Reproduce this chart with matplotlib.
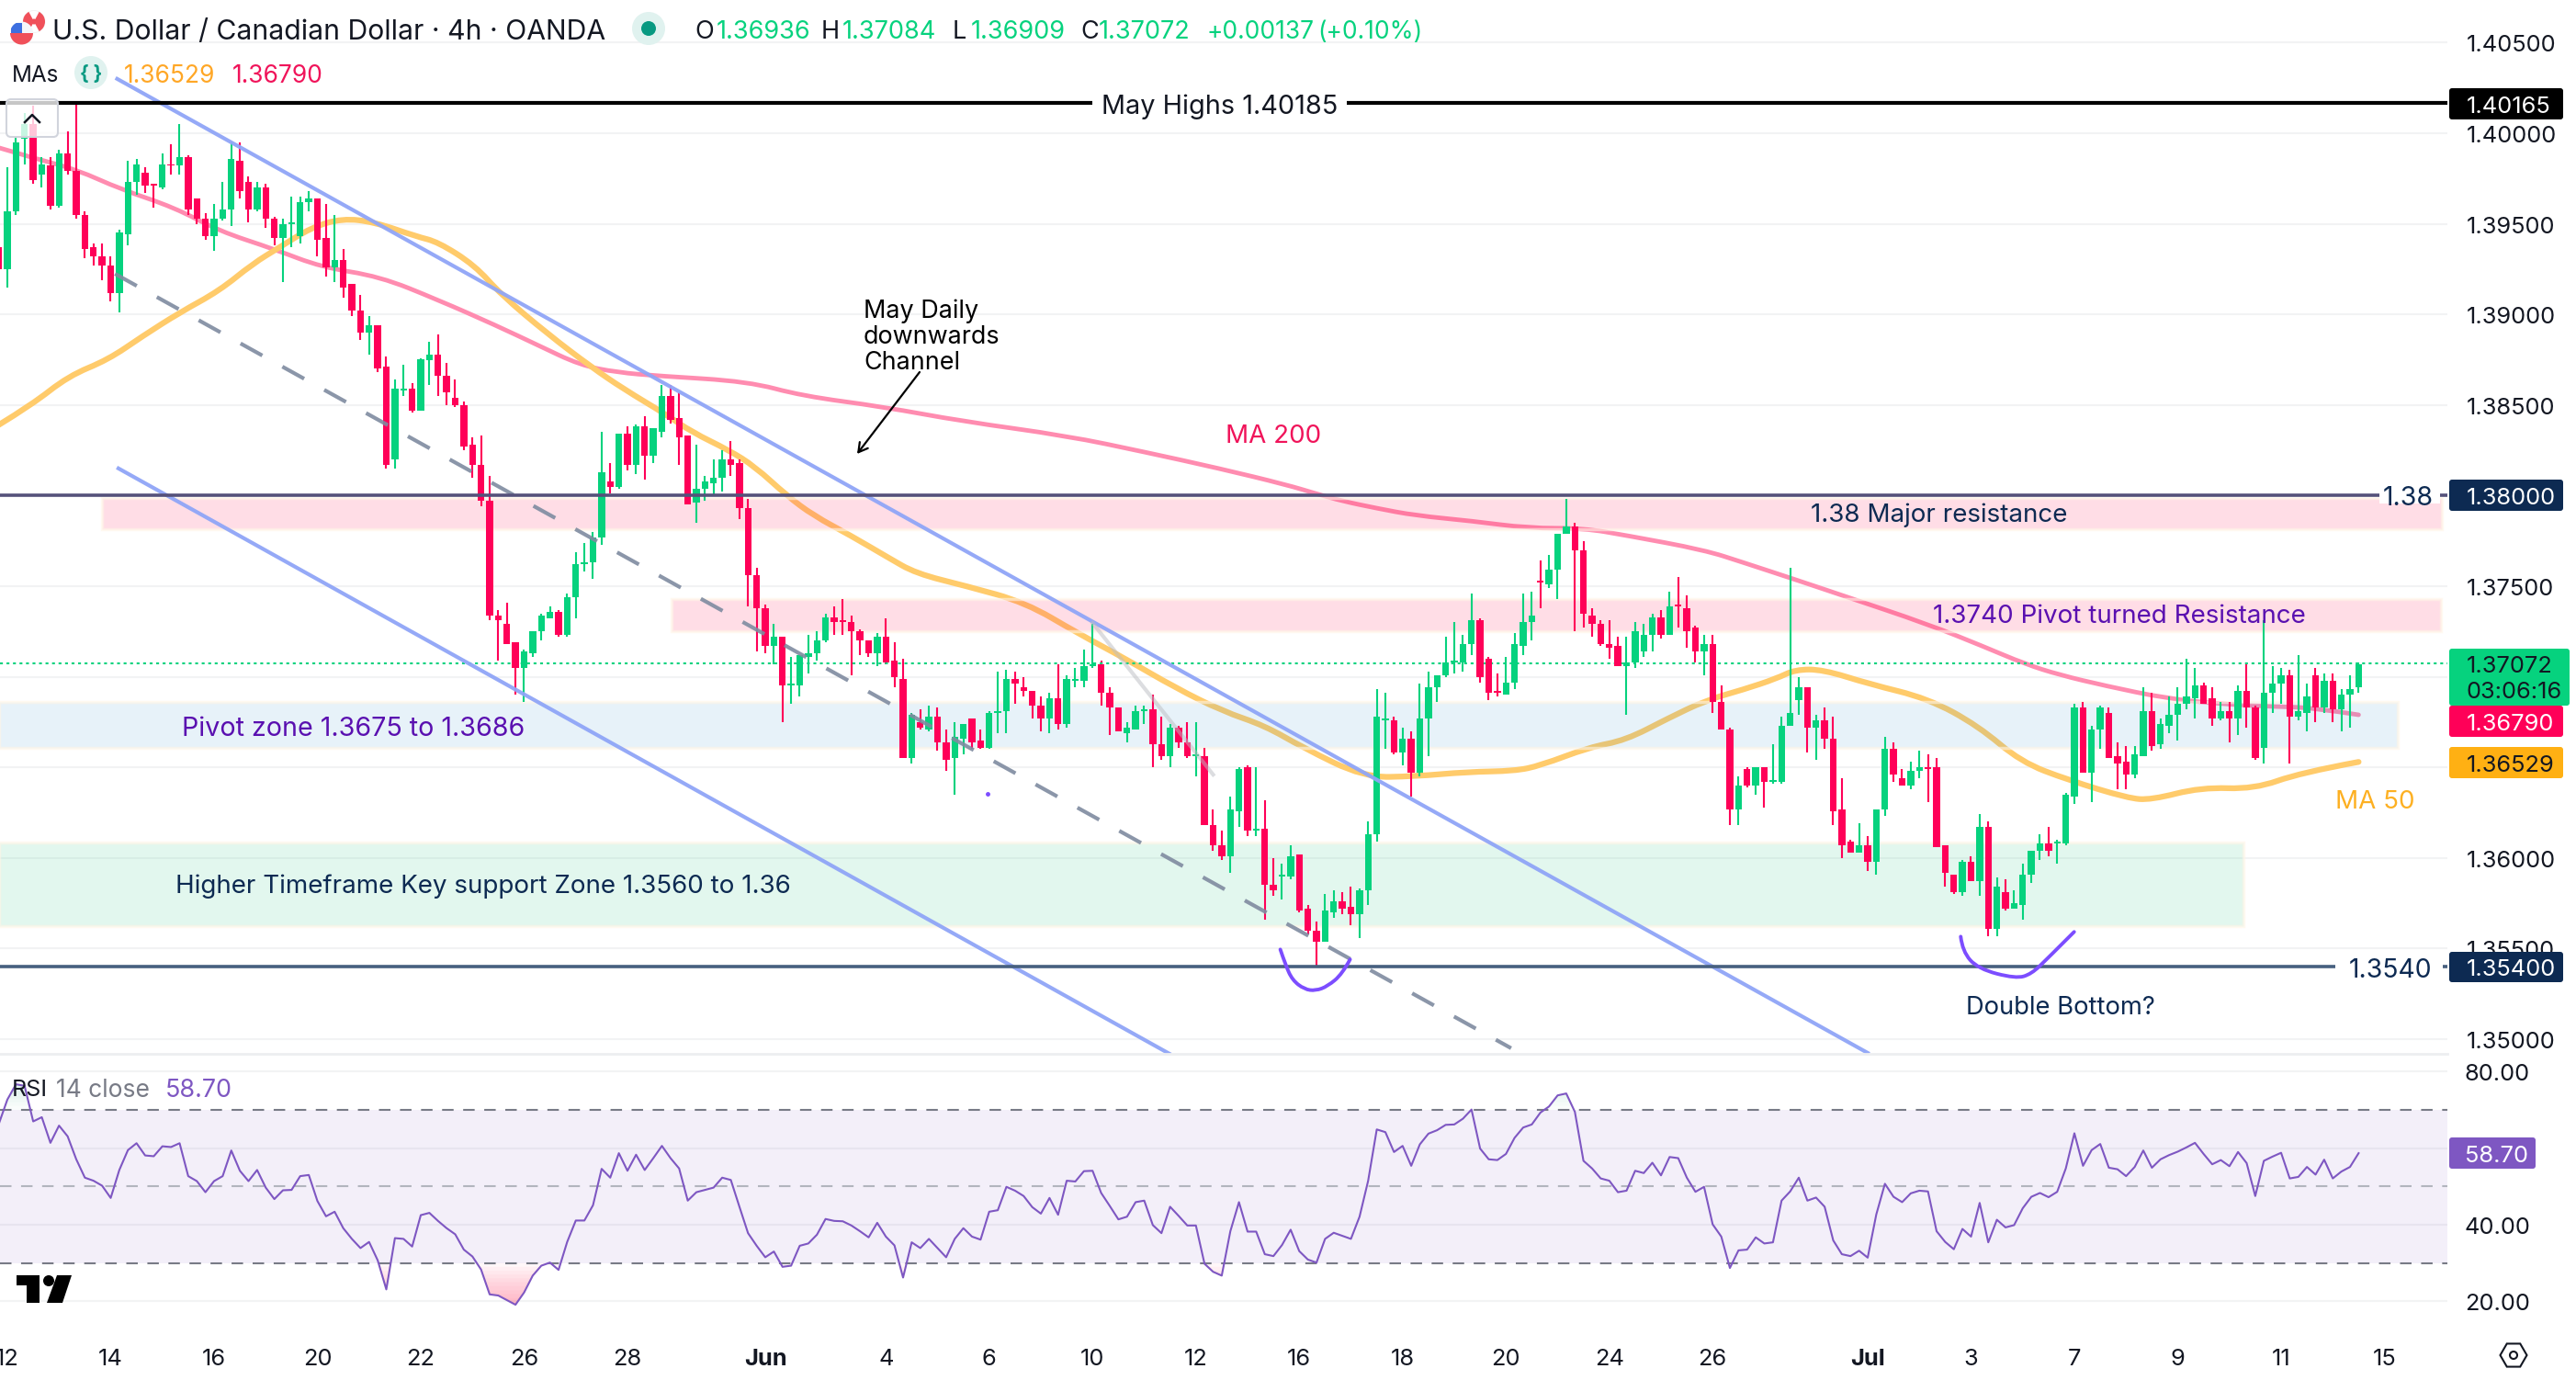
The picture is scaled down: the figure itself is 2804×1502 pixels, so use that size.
import numpy as np
import matplotlib
matplotlib.use("Agg")
import matplotlib.pyplot as plt
from matplotlib.patches import Rectangle, FancyBboxPatch, Circle, Ellipse, Polygon, RegularPolygon, Wedge, PathPatch
from matplotlib.path import Path

plt.rcParams['font.family'] = ['Inter', 'DejaVu Sans']

# candles in pips (1.3000 = 13000), first bar is partly off the left edge
first_bar = -1
opens = [13937,13925,13957,13997,14005,13977,13982,13960,13989,13979,
13955,13937,13932,13927,13912,13944,13973,13978,13972,13970,
13983,13982,13987,13964,13953,13943,13953,13958,13985,13973,
13958,13970,13953,13942,13950,13943,13962,13964,13942,13926,
13930,13917,13902,13890,13894,13871,13820,13858,13859,13847,
13875,13878,13866,13854,13850,13828,13817,13797,13734,13729,
13719,13705,13713,13725,13732,13736,13723,13744,13762,13763,
13777,13808,13805,13834,13817,13838,13822,13835,13855,13843,
13833,13796,13804,13807,13810,13820,13818,13793,13756,13738,
13717,13722,13695,13695,13711,13713,13720,13733,13731,13730,
13725,13720,13713,13722,13709,13699,13655,13675,13671,13678,
13664,13655,13666,13677,13665,13661,13680,13681,13699,13694,
13692,13684,13677,13688,13674,13698,13698,13706,13707,13691,
13683,13669,13671,13681,13682,13663,13656,13672,13664,13656,
13656,13618,13607,13601,13626,13650,13615,13616,13585,13590,
13590,13602,13572,13560,13554,13570,13576,13573,13569,13582,
13613,13676,13676,13658,13666,13647,13677,13694,13701,13708,
13708,13718,13731,13710,13692,13690,13697,13717,13730,13753,
13751,13759,13779,13783,13770,13734,13729,13718,13717,13706,
13708,13714,13723,13733,13723,13740,13738,13727,13714,13718,
13686,13671,13627,13649,13640,13650,13642,13642,13673,13687,
13694,13672,13676,13666,13627,13609,13603,13607,13598,13627,
13660,13644,13640,13648,13650,13650,13607,13591,13581,13598,
13587,13617,13561,13581,13572,13574,13591,13604,13608,13608,
13608,13634,13683,13647,13671,13680,13656,13653,13646,13656,
13681,13663,13673,13679,13685,13688,13695,13688,13677,13681,
13677,13692,13683,13661,13691,13696,13701,13678,13680,13701,
13683,13698,13682,13690,13694]
highs = [13940,13981,13998,14011,14015,13987,13987,13991,14001,14016,
13957,13939,13939,13932,13947,13985,13986,13981,13972,13989,
13994,14005,13988,13964,13956,13961,13973,13995,13995,13976,
13973,13972,13954,13953,13965,13965,13968,13964,13961,13955,
13936,13917,13911,13899,13894,13877,13864,13872,13862,13876,
13885,13889,13873,13864,13852,13832,13833,13811,13737,13741,
13719,13715,13725,13735,13739,13737,13746,13769,13774,13780,
13835,13818,13834,13838,13839,13844,13837,13861,13861,13857,
13833,13828,13811,13820,13825,13830,13820,13798,13760,13740,
13729,13722,13711,13712,13723,13725,13735,13739,13743,13734,
13726,13720,13724,13732,13719,13710,13680,13682,13684,13683,
13671,13675,13674,13677,13671,13681,13703,13704,13703,13700,
13692,13689,13691,13707,13701,13705,13715,13729,13709,13694,
13683,13675,13684,13684,13690,13678,13674,13673,13675,13675,
13661,13627,13615,13634,13650,13651,13650,13632,13600,13597,
13607,13602,13574,13565,13580,13582,13581,13584,13583,13620,
13693,13691,13678,13672,13670,13696,13703,13701,13722,13730,
13723,13746,13732,13711,13702,13711,13724,13746,13747,13764,
13767,13779,13798,13785,13775,13738,13731,13731,13722,13722,
13730,13729,13735,13737,13747,13755,13745,13728,13723,13723,
13695,13672,13645,13650,13650,13650,13663,13678,13760,13700,
13694,13679,13683,13678,13644,13610,13619,13612,13627,13667,
13664,13649,13653,13659,13657,13655,13607,13591,13599,13601,
13624,13620,13589,13588,13582,13597,13604,13613,13617,13610,
13636,13685,13686,13673,13684,13683,13664,13662,13662,13694,
13691,13677,13689,13694,13710,13705,13697,13694,13686,13686,
13695,13708,13684,13731,13706,13705,13704,13712,13696,13705,
13702,13702,13693,13701,13708]
lows = [13921,13915,13955,13983,13972,13970,13958,13959,13977,13953,
13931,13927,13919,13907,13901,13938,13966,13967,13959,13969,
13977,13977,13955,13950,13941,13935,13952,13949,13964,13951,
13957,13948,13938,13918,13937,13939,13957,13932,13921,13918,
13909,13899,13886,13878,13868,13815,13815,13855,13846,13847,
13861,13855,13850,13849,13825,13810,13794,13731,13709,13718,
13690,13686,13711,13720,13732,13722,13722,13732,13758,13754,
13773,13801,13804,13814,13812,13809,13818,13832,13840,13817,
13795,13785,13797,13800,13802,13811,13787,13739,13714,13713,
13707,13675,13685,13689,13702,13709,13719,13723,13723,13701,
13712,13711,13706,13707,13694,13655,13652,13671,13670,13659,
13648,13635,13657,13660,13660,13660,13669,13669,13685,13689,
13677,13670,13669,13671,13672,13694,13694,13705,13684,13668,
13670,13664,13671,13674,13650,13654,13650,13661,13655,13645,
13618,13604,13599,13592,13617,13612,13612,13566,13579,13577,
13588,13570,13558,13540,13554,13567,13569,13563,13556,13574,
13609,13660,13657,13651,13634,13645,13656,13686,13700,13702,
13703,13712,13697,13687,13689,13690,13693,13712,13720,13738,
13749,13743,13779,13725,13727,13722,13717,13710,13706,13679,
13705,13711,13714,13721,13723,13727,13716,13708,13701,13680,
13671,13618,13618,13639,13635,13628,13641,13641,13673,13679,
13658,13654,13660,13618,13600,13603,13603,13593,13591,13623,
13642,13640,13638,13644,13631,13606,13584,13580,13579,13587,
13579,13557,13557,13571,13572,13566,13586,13599,13601,13597,
13607,13630,13647,13631,13660,13655,13638,13638,13644,13656,
13659,13660,13669,13665,13682,13677,13685,13673,13676,13664,
13668,13672,13654,13652,13680,13685,13652,13676,13670,13675,
13680,13675,13670,13672,13691]
closes = [13925,13957,13995,14005,13974,13983,13960,13989,13979,13955,
13936,13932,13927,13912,13945,13973,13983,13971,13971,13983,
13982,13987,13958,13953,13943,13953,13958,13986,13968,13958,
13970,13953,13942,13950,13951,13962,13964,13941,13926,13930,
13915,13902,13890,13894,13870,13817,13859,13859,13847,13875,
13878,13866,13857,13850,13827,13817,13797,13734,13731,13718,
13705,13714,13725,13734,13736,13723,13744,13762,13763,13777,
13813,13805,13834,13817,13838,13822,13837,13855,13842,13832,
13795,13804,13808,13810,13820,13817,13793,13756,13738,13717,
13722,13695,13696,13712,13713,13720,13733,13730,13730,13725,
13720,13713,13722,13708,13700,13655,13679,13672,13678,13664,
13654,13667,13674,13664,13661,13680,13681,13699,13696,13692,
13684,13677,13688,13674,13699,13699,13706,13707,13691,13683,
13670,13672,13681,13682,13663,13656,13672,13664,13656,13657,
13618,13607,13601,13627,13649,13615,13616,13585,13582,13591,
13601,13571,13560,13554,13571,13576,13572,13569,13582,13613,
13678,13677,13658,13666,13647,13677,13694,13701,13708,13709,
13718,13731,13700,13691,13691,13697,13718,13730,13734,13752,
13759,13779,13783,13770,13735,13729,13718,13716,13706,13708,
13725,13723,13733,13723,13739,13739,13725,13714,13718,13686,
13671,13627,13640,13640,13650,13642,13643,13673,13680,13694,
13672,13676,13666,13626,13607,13603,13607,13598,13627,13660,
13646,13640,13648,13650,13649,13606,13592,13581,13598,13587,
13617,13561,13584,13572,13575,13591,13604,13608,13604,13609,
13635,13683,13647,13671,13683,13655,13652,13646,13657,13681,
13662,13674,13679,13685,13689,13695,13685,13677,13681,13677,
13692,13683,13655,13691,13696,13701,13678,13681,13689,13683,
13698,13682,13690,13693,13707]

ma200_bars = [-1,4,8,13.2,19.4,24.6,31,36.5,43.2,50,56.7,61.6,66.5,70.8,75.7,86,92.3,101.7,110.9,123,132.1,140.7,148.5,152,155,159,163.5,170,176.6,183,188,197,201.6,208,213,223,229.3,234.3,238.3,243.6,250.7,257,263.2,267.6,273]
ma200_vals = [13992,13985,13980,13969,13959,13946,13936,13926,13921,13908,13894,13883,13872,13868,13866,13863,13855,13849,13841,13833,13824,13815,13806,13801,13797,13793,13789,13786,13782,13782,13778,13770,13763,13753,13745,13729,13717,13707,13701,13695,13688,13685,13683.5,13683,13679]
ma50_bars = [-1,2.8,7.1,11.7,15.7,20,24.6,28.5,31.6,35.3,38.9,42.6,47.5,50,54.3,57.3,62.8,67.8,71.5,76.4,79.5,83.8,86.8,90.5,93.6,97.9,102.2,105.5,111.4,118.2,124.3,129.8,135.6,141.1,146,150.4,157.5,163.4,169.5,175,178,183.6,187.9,192.8,197.2,201.6,205.4,207.6,210.8,216.2,223,228.8,233.8,239.3,246.2,248.9,254.7,260.9,266.2,273]
ma50_vals = [13839,13850,13866,13875,13888,13901,13913,13928,13937,13948,13953,13951,13943,13940,13927,13911,13889,13871,13859,13845,13835,13825,13816,13800,13789,13778,13766,13757,13750,13741,13724,13710,13694,13681,13673,13661,13644.5,13645,13647.5,13648,13651,13661,13665,13677,13687,13693,13699,13704,13704,13696,13688,13673,13653,13643,13633,13632,13639,13638,13647,13653]

rsi_vals = [66.3,72.7,76.7,76.3,67.0,68.1,61.4,65.9,63.1,57.1,52.3,51.5,50.2,47.0,54.3,59.5,61.3,58.1,57.9,60.5,
60.3,61.3,52.7,51.4,48.5,51.4,52.7,59.4,54.1,51.4,54.3,49.7,46.7,49.0,49.1,52.7,53.0,46.2,42.2,43.4,
39.1,36.3,33.9,35.5,30.7,23.1,36.5,36.3,34.3,42.5,43.1,41.0,39.1,37.5,33.5,31.7,28.3,21.8,21.5,20.3,
19.1,22.3,26.7,29.3,30.1,28.2,35.5,41.1,41.1,45.1,54.6,52.3,58.7,54.1,58.3,54.3,57.4,60.6,57.4,54.7,
46.3,48.5,49.1,49.7,52.3,51.7,44.7,37.8,34.5,31.5,33.0,29.0,29.3,34.5,35.1,37.4,41.5,41.0,40.9,39.8,
38.3,36.7,40.5,36.9,34.6,26.2,35.4,33.9,36.3,33.9,31.5,36.3,39.1,36.9,36.1,43.4,43.8,49.9,48.9,47.5,
44.6,42.9,47.0,42.6,51.5,51.3,54.0,54.1,48.3,44.9,41.4,42.1,45.9,46.3,39.9,37.8,44.7,42.3,39.8,39.8,
29.8,27.7,26.7,38.3,45.9,38.2,38.2,32.3,31.8,34.7,38.7,33.1,30.9,30.1,36.3,37.9,37.1,36.3,42.1,51.5,
64.9,64.2,59.0,60.6,55.4,61.0,63.8,64.7,66.1,66.2,67.7,70.1,59.9,57.1,56.9,58.5,62.7,65.4,66.2,69.3,
70.9,73.8,74.3,69.5,56.7,54.7,52.1,51.5,48.5,48.9,54.1,53.5,56.2,52.9,57.7,57.4,52.3,48.6,49.9,40.1,
36.9,28.7,33.3,33.5,36.7,35.1,35.4,46.3,48.7,52.3,46.3,47.1,44.7,35.9,32.3,31.8,33.2,31.4,42.7,50.7,
47.3,45.9,48.2,48.9,48.7,38.3,35.5,33.6,38.9,36.9,45.7,35.4,41.3,39.3,39.9,44.3,47.3,48.3,47.2,48.6,
54.7,63.9,55.4,59.5,61.1,54.9,54.5,52.7,55.1,59.4,54.9,57.1,58.2,59.1,60.2,61.4,58.5,55.8,56.9,55.3,
59.0,56.1,47.5,56.7,57.8,58.8,52.1,52.5,55.1,53.1,57.0,52.1,53.9,55.1,58.7]

price_ticks = [1.405,1.40,1.395,1.39,1.385,1.38,1.375,1.37,1.365,1.36,1.355,1.35]
# the others sit under the value tags
price_labels = [1.405,1.40,1.395,1.39,1.385,1.375,1.36,1.355,1.35]
rsi_ticks = [80,60,40,20]
rsi_labels = [80,40,20]
time_bars = [0,12,24,36,48,60,72,88,102,114,126,138,150,162,174,186,198,216,228,240,252,264,276]
time_labels = ['12','14','16','20','22','26','28','Jun','4','6','10','12','16','18','20','24','26','Jul','3','7','9','11','15']

# zones (low, high, first bar, last bar)
major_zone = (1.37816, 1.37988, 11, 282.7)
pivot_res_zone = (1.37253, 1.37427, 77.1, 282.6)
pivot_zone = (1.36610, 1.36860, -1, 277.6)
support_zone = (1.35625, 1.36083, -1, 259.6)

may_high = 1.40165
res_level = 1.38
sup_level = 1.354
last_price = 1.37072

# drawn lines as (bar, pips)
channel_top = ([12.75, 216], [14030, 13492.4])
channel_bottom = ([12.9, 134.9], [13815, 13492])
channel_mid = ([12.5, 174.6], [13922.4, 13495])
faint_line = ([126, 140], [13729.7, 13646])
bottom_one = ([147.8,148.4,149.2,150.6,151.9,153.3,155,155.9], [13549.5,13541,13532.6,13527.5,13526.7,13529.2,13536,13544])
bottom_two = ([226.8,227,228.8,233.2,235,236.9,239.97], [13556.6,13548.5,13538.8,13533.4,13535.9,13544.6,13559.2])

GREEN = '#06D27E'
RED = '#FF0058'
NAVY = '#0D2A52'
PURPLE_TXT = '#5A10B0'
RSI_COL = '#7E57C2'
GRID = '#F2F3F4'

W, H = 2804, 1502
BAR_PX = 9.375
PANE_R = 2664
fig = plt.figure(figsize=(W / 100, H / 100), dpi=100, facecolor='white')

def bar_x(px):
    return (px - 8) / BAR_PX

def price_y(price):
    return 145 + (1.40 - price) * 19720

def smooth_path(xs, ys):
    # rounded line through the read points, corners only get softened
    pts = list(zip(xs, ys))
    verts = [pts[0]]
    codes = [Path.MOVETO]
    for k in range(1, len(pts) - 1):
        mid = ((pts[k][0] + pts[k + 1][0]) / 2, (pts[k][1] + pts[k + 1][1]) / 2)
        verts += [pts[k], mid if k < len(pts) - 2 else pts[k + 1]]
        codes += [Path.CURVE3, Path.CURVE3]
    return Path(verts, codes)

ax = fig.add_axes([0, 1 - 1147 / H, PANE_R / W, 1147 / H])
ax.set_xlim(bar_x(0), bar_x(PANE_R))
ax.set_ylim(1.40 - (1147 - 145) / 19720, 1.40 + 145 / 19720)
ax.axis('off')

for t in price_ticks:
    ax.axhline(t, color=GRID, lw=1.5, zorder=1)

# zones
for name_color, zone in [(('#FF1C58', .15), major_zone), (('#FF1C58', .15), pivot_res_zone),
                         (('#3F9BD5', .12), pivot_zone), (('#16C57A', .12), support_zone)]:
    low, high, a, b = zone
    col = matplotlib.colors.to_rgba(name_color[0], name_color[1])
    ax.add_patch(Rectangle((a, low), b - a, high - low, facecolor=col, edgecolor=(1, .96, .9, .6),
                           lw=2.5, zorder=3))

# moving averages
ax.add_patch(PathPatch(smooth_path(ma200_bars, np.array(ma200_vals) / 10000), fill=False, edgecolor='#FF8CB0',
                       lw=3.5, capstyle='round', zorder=2.5))
ax.add_patch(PathPatch(smooth_path(ma50_bars, np.array(ma50_vals) / 10000), fill=False, edgecolor='#FFCB6B',
                       lw=4.5, capstyle='round', zorder=2.5))

# candles
bars = np.arange(first_bar, first_bar + len(opens))
o = np.array(opens) / 10000
h = np.array(highs) / 10000
l = np.array(lows) / 10000
c = np.array(closes) / 10000
colors = [GREEN if b >= a else RED for a, b in zip(o, c)]
ax.vlines(bars, l, h, colors=colors, lw=1.5, zorder=4)
ax.bar(bars, np.abs(c - o), bottom=np.minimum(o, c), width=0.78, color=colors, lw=0, zorder=4.5)

# last price line
ax.axhline(last_price, color=GREEN, lw=1.5, ls=(0, (1.5, 1.9)), zorder=4.2)

# channel
for line in (channel_top, channel_bottom):
    ax.plot(line[0], np.array(line[1]) / 10000, color='#8FA5F7', lw=3, alpha=.95, zorder=5)
ax.plot(channel_mid[0], np.array(channel_mid[1]) / 10000, color='#7F8BA0', lw=3, ls=(0, (6.5, 6)), alpha=.9, zorder=5)
ax.plot(faint_line[0], np.array(faint_line[1]) / 10000, color='#BBBDC2', lw=3, alpha=.5, zorder=5)

# horizontal levels
ax.axhline(may_high, color='black', lw=3, zorder=6)
ax.axhline(res_level, color='#55517A', lw=2.6, zorder=6)
ax.axhline(sup_level, color='#47607F', lw=2.6, zorder=6)

# hand drawn bottoms
for curve in (bottom_one, bottom_two):
    ax.add_patch(PathPatch(smooth_path(curve[0], np.array(curve[1]) / 10000), fill=False,
                           edgecolor='#7C4DFF', lw=2.8, capstyle='round', zorder=6.5))
ax.plot([(1075.5 - 8) / BAR_PX], [1.40 - (864 - 145) / 19720], 'o', color='#7C4DFF', ms=2.5, zorder=6.5)

# rsi pane
rs = fig.add_axes([0, 1 - 1450 / H, PANE_R / W, (1450 - 1147) / H])
rs.set_xlim(bar_x(0), bar_x(PANE_R))
rs.set_ylim(60 - 200.3 / 4.165, 60 + 102.7 / 4.165)
rs.axis('off')
rs_bars = np.arange(first_bar, first_bar + len(rsi_vals))
rsi = np.array(rsi_vals)
for t in rsi_ticks:
    rs.axhline(t, color=GRID, lw=1.5, zorder=1)
rs.axhspan(30, 70, color=RSI_COL, alpha=.09, lw=0, zorder=1.5)
for lvl in np.arange(30, 18.5, -1.0):
    rs.fill_between(rs_bars, rsi, lvl, where=rsi < lvl, interpolate=True, color='#FF2E5B', alpha=.035, lw=0, zorder=2)
for lvl in np.arange(70, 78, 1.0):
    rs.fill_between(rs_bars, rsi, lvl, where=rsi > lvl, interpolate=True, color='#16C57A', alpha=.02, lw=0, zorder=2)
rs.axhline(70, color='#787B86', lw=1.5, ls=(0, (6, 5)), zorder=3)
rs.axhline(30, color='#787B86', lw=1.5, ls=(0, (6, 5)), zorder=3)
rs.axhline(50, color='#B2B5BE', lw=1.5, ls=(0, (6, 5)), zorder=3)
rs.plot(rs_bars, rsi, color=RSI_COL, lw=1.5, zorder=4)

# overlay in figure pixels for texts, tags and icons
ov = fig.add_axes([0, 0, 1, 1], zorder=10)
ov.set_xlim(0, W)
ov.set_ylim(H, 0)
ov.axis('off')
ov.patch.set_alpha(0)

ov.plot([0, PANE_R], [1147, 1147], color='#EDEEF0', lw=2)

FS = 18.3
NOTE = 20

def txt(x, y, s, color='#131722', size=FS, ha='left', va='center', **kw):
    return ov.text(x, y + 3.5, s, color=color, fontsize=size, ha=ha, va=va, **kw)

def tag(y0, y1, x1, color, zorder=12):
    ov.add_patch(FancyBboxPatch((2666, y0), x1 - 2666, y1 - y0, boxstyle='round,pad=0,rounding_size=3',
                                facecolor=color, edgecolor='none', zorder=zorder))

# header
us = Circle((23.5, 36), 12.5, facecolor='#F4F6FA', edgecolor='none', zorder=3)
ca = Circle((37, 23.5), 12, facecolor='white', edgecolor='#EEE', lw=.5)
ov.add_patch(ca)
ov.add_patch(Wedge((37, 23.5), 12, -62, 62, facecolor='#F0505A', lw=0))
ov.add_patch(Wedge((37, 23.5), 12, 118, 242, facecolor='#F0505A', lw=0))
ov.add_patch(Circle((37, 23.5), 3, facecolor='#F0505A', lw=0))
ov.add_patch(us)
ov.add_patch(Wedge((23.5, 36), 12.5, 0, 180, facecolor='#F0505A', lw=0, zorder=3.1))
ov.add_patch(Rectangle((12, 25), 12, 11, facecolor='#3D6FE0', lw=0, zorder=3.2, clip_path=us))
txt(57, 31, 'U.S. Dollar / Canadian Dollar · 4h · OANDA', size=21.7)
ov.add_patch(Ellipse((706, 31), 36, 36, facecolor='#E0F2EF', lw=0))
ov.add_patch(Ellipse((706, 31), 16, 16, facecolor='#089981', lw=0))
for label, lx, value, vx, vcol in [('O', 756, '1.36936', 780, GREEN), ('H', 894, '1.37084', 917, GREEN),
                                   ('L', 1037, '1.36909', 1057, GREEN), ('C', 1176, '1.37072', 1196, GREEN)]:
    txt(lx, 31, label, size=19.5)
    txt(vx, 31, value, color=vcol, size=19.5)
txt(1314, 31, '+0.00137', color=GREEN, size=19)
txt(1434, 31, '(+0.10%)', color=GREEN, size=19)
txt(13, 79, 'MAs', size=17.5)
ov.add_patch(Ellipse((99, 79), 36, 36, facecolor='#E0F2EF', lw=0))
txt(99, 78, '{ }', color='#089981', size=15, ha='center', fontweight='bold')
txt(135, 79, '1.36529', color='#FFA726', size=19)
txt(253, 79, '1.36790', color='#F0145A', size=19)

# collapse button
ov.add_patch(FancyBboxPatch((7, 108), 56, 41, boxstyle='round,pad=0,rounding_size=5', facecolor=(1, 1, 1, .78),
                            edgecolor='#D1D4DC', lw=1.5, zorder=8))
ov.plot([27, 35, 43], [133, 125, 133], color='#131722', lw=1.8, zorder=9)

# price axis labels
for t in price_labels:
    txt(2685, price_y(t), '%.5f' % t, color='#131722')
for t in rsi_labels:
    txt(2683, 1249.7 + (60 - t) * 4.165, '%.2f' % t)

# value tags
tag(96, 130, 2790, '#000000')
txt(2685, 113, '1.40165', color='white', zorder=13)
tag(522, 556, 2790, NAVY)
txt(2685, 539, '1.38000', color='white', zorder=13)
tag(706, 768, 2797, GREEN)
txt(2685, 722, '1.37072', zorder=13)
txt(2685, 750, '03:06:16', zorder=13)
tag(768, 802, 2790, RED)
txt(2685, 785, '1.36790', color='white', zorder=13)
tag(813, 847, 2790, '#FFB013')
txt(2685, 830, '1.36529', zorder=13)
tag(1036, 1069, 2790, NAVY)
txt(2685, 1052, '1.35400', color='white', zorder=13)
tag(1238, 1272, 2760, RSI_COL)
txt(2683, 1255, '58.70', color='white', zorder=13)

# time axis
for b, label in zip(time_bars, time_labels):
    bold = label in ('Jun', 'Jul')
    txt(8 + b * BAR_PX, 1476, label, ha='center', fontweight='bold' if bold else 'normal')

# chart annotations
ov.add_patch(Rectangle((1189, 105), 277, 16, facecolor='white', lw=0, zorder=7))
txt(1328, 113, 'May Highs 1.40185', ha='center', color='#131722', size=20.8, zorder=8)
ov.add_patch(Rectangle((2590, 532), 66, 16, facecolor='white', lw=0, zorder=7))
txt(2621, 539, '1.38', ha='center', color=NAVY, size=20.5, zorder=8)
ov.add_patch(Rectangle((2542, 1045), 117, 15, facecolor='white', lw=0, zorder=7))
txt(2602, 1053, '1.3540', ha='center', color=NAVY, size=20.4, zorder=8)
txt(940, 335, 'May Daily', color='black', size=19.4)
txt(940, 363, 'downwards', color='black', size=19.4)
txt(940, 392, 'Channel', color='black', size=19.4)
ov.annotate('', xy=(933, 494), xytext=(1001, 405),
            arrowprops=dict(arrowstyle='->,head_length=.7,head_width=.4', color='black', lw=1.6, shrinkA=0, shrinkB=0))
txt(1386, 472, 'MA 200', color='#F0145A', ha='center', size=NOTE)
txt(2111, 557, '1.38 Major resistance', color=NAVY, ha='center', size=NOTE)
txt(2307, 667, '1.3740 Pivot turned Resistance', color=PURPLE_TXT, ha='center', size=NOTE)
txt(385, 790, 'Pivot zone 1.3675 to 1.3686', color=PURPLE_TXT, ha='center', size=20.6)
txt(526, 961, 'Higher Timeframe Key support Zone 1.3560 to 1.36', color=NAVY, ha='center', size=NOTE)
txt(2243, 1093, 'Double Bottom?', color=NAVY, ha='center', size=19.7)
txt(2585, 870, 'MA 50', color='#FDB022', ha='center', size=NOTE)
txt(13, 1183, 'RSI', size=18)
txt(61, 1183, '14 close', color='#787B86', size=19)
txt(180, 1183, '58.70', color=RSI_COL, size=19.4)

# tradingview mark
ov.add_patch(Polygon([(18, 1388), (43, 1388), (43, 1418), (29, 1418), (29, 1399), (18, 1399)], facecolor='black', lw=0))
ov.add_patch(Circle((53, 1394), 6, facecolor='black', lw=0))
ov.add_patch(Polygon([(62, 1388), (78, 1388), (68, 1418), (51, 1418)], facecolor='black', lw=0))

# settings icon
ov.add_patch(RegularPolygon((2736, 1475), 6, radius=14.5, orientation=np.pi / 6, facecolor='none', edgecolor='#131722', lw=1.5))
ov.add_patch(Circle((2736, 1475), 4, facecolor='none', edgecolor='#131722', lw=1.5))

fig.savefig('out.png', dpi=100)
